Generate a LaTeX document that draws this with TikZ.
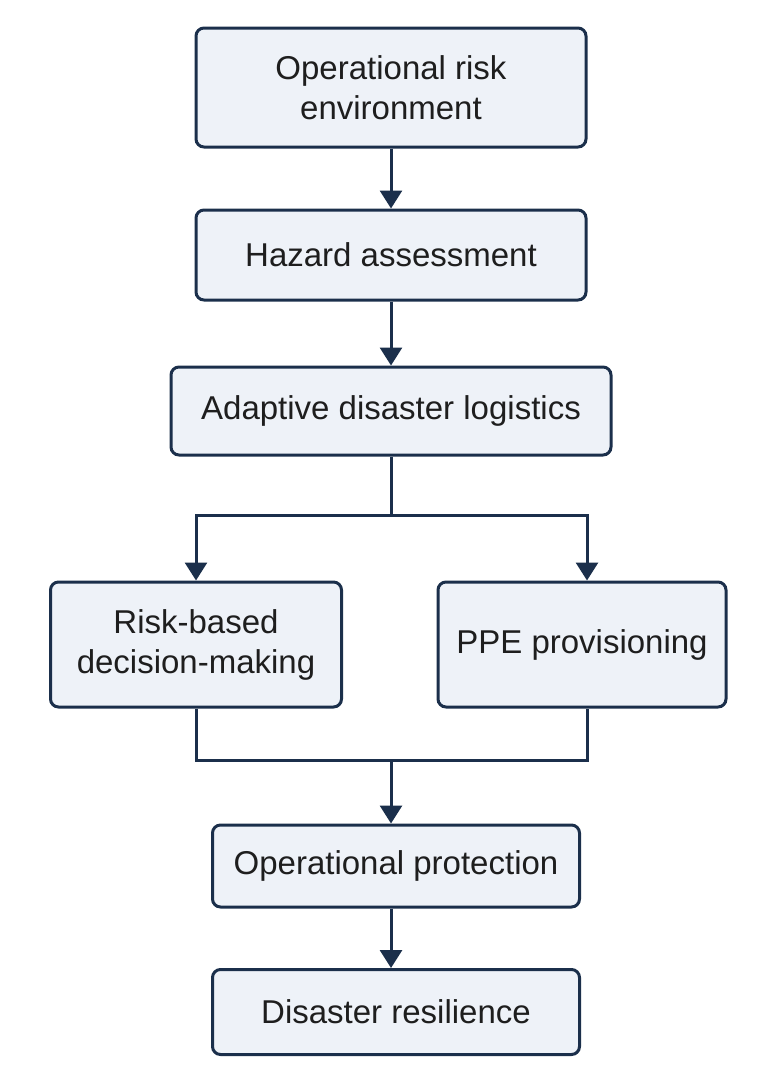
\documentclass[tikz,border=0pt]{standalone}
\usepackage{fontspec}
\setmainfont{Liberation Sans}
\usetikzlibrary{arrows.meta}
\definecolor{edge}{HTML}{1B2F4B}
\definecolor{boxfill}{HTML}{EEF2F8}
\definecolor{txt}{HTML}{1E1E1E}
\tikzset{
  stepbox/.style={draw=edge, fill=boxfill, line width=3pt, rounded corners=8pt,
    align=center, text=txt, inner sep=0pt,
    font=\fontsize{33}{40}\selectfont},
  conn/.style={draw=edge, line width=3pt},
  arr/.style={conn, -{Triangle[width=22pt,length=18pt]}}
}
\begin{document}
\begin{tikzpicture}[x=1pt,y=1pt]
\useasboundingbox (0,0) rectangle (767,-1072);
\node[stepbox, minimum width=390pt, minimum height=119pt] (b1) at (391,-87.5) {Operational risk\\environment};
\node[stepbox, minimum width=390pt, minimum height=90pt] (b2) at (391,-255) {Hazard assessment};
\node[stepbox, minimum width=440pt, minimum height=88pt] (b3) at (391,-411) {Adaptive disaster logistics};
\node[stepbox, minimum width=291pt, minimum height=125pt] (b4) at (196,-644.5) {Risk-based\\decision-making};
\node[stepbox, minimum width=288pt, minimum height=125pt] (b5) at (582,-644.5) {PPE provisioning};
\node[stepbox, minimum width=367pt, minimum height=82pt] (b6) at (396,-866) {Operational protection};
\node[stepbox, minimum width=367pt, minimum height=85pt] (b7) at (396,-1012) {Disaster resilience};
\coordinate (j1) at (391,-515);
\coordinate (j2) at (391,-760);
\draw[arr] (b1.south) -- (b2.north);
\draw[arr] (b2.south) -- (b3.north);
\draw[conn] (b3.south) -- (j1);
\draw[arr] (j1) -| (b4.north);
\draw[arr] (j1) -| ([xshift=5pt]b5.north);
\draw[conn] (b4.south) |- (j2) -| ([xshift=5pt]b5.south);
\draw[arr] (j2) -- ([xshift=-5pt]b6.north);
\draw[arr] ([xshift=-5pt]b6.south) -- ([xshift=-5pt]b7.north);
\end{tikzpicture}
\end{document}
